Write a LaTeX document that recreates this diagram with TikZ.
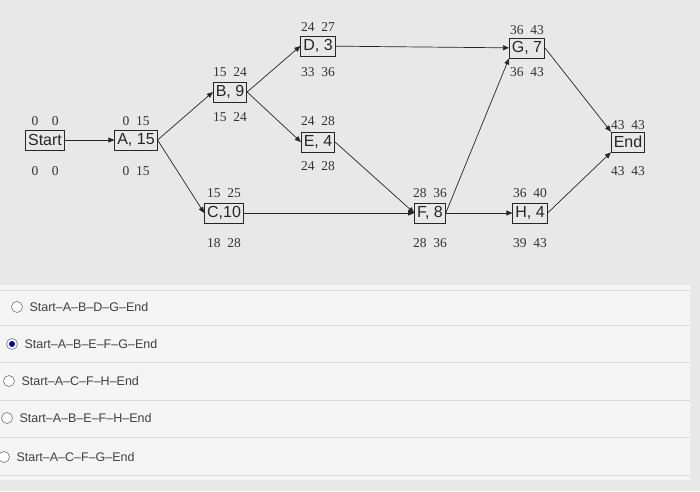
\documentclass[tikz,border=0pt]{standalone}
\usepackage{fontspec}
\setmainfont{Liberation Serif}
\newfontfamily\sansf{Liberation Sans}
\usetikzlibrary{arrows.meta}
\begin{document}
\begin{tikzpicture}[x=1pt,y=-1pt,
  act/.style={draw=black!85,line width=0.8pt,inner xsep=2.5pt,inner ysep=1.5pt,minimum height=20,font=\sansf\fontsize{16}{16}\selectfont,text=black!85},
  lab/.style={font=\fontsize{13.5}{13.5}\selectfont,text=black!80},
  arr/.style={-{Triangle[length=6pt,width=5pt]},line width=0.7pt,black!85},
  opt/.style={font=\sansf\fontsize{12.5}{13}\selectfont,text=black!75,anchor=west},
  rad/.style={draw=black!55,line width=0.6pt,fill=white,circle,minimum size=11pt,inner sep=0pt}]
\useasboundingbox (0,0) rectangle (700,491);
\fill[black!9] (0,0) rectangle (700,491);
\fill[black!4] (0,285) rectangle (690,480);
\foreach \y in {290,325,362,400,437,475} \draw[black!15] (0,\y) -- (690,\y);
\node[act] (S) at (45,140) {Start};
\node[act] (A) at (136,140) {A, 15};
\node[act] (B) at (230,92) {B, 9};
\node[act] (C) at (224,213) {C,10};
\node[act] (D) at (318,46) {D, 3};
\node[act] (E) at (318,142) {E, 4};
\node[act] (F) at (430,213) {F, 8};
\node[act] (G) at (527,48) {G, 7};
\node[act] (H) at (530,213) {H, 4};
\node[act] (End) at (628,142) {End};
\foreach \n/\x/\t/\ty/\b/\by in {
  S/45/0\quad 0/121/0\quad 0/171,
  A/136/0\enspace 15/121/0\enspace 15/171,
  B/230/15\enspace24/72/15\enspace24/117,
  C/224/15\enspace25/193/18\enspace28/243,
  D/318/24\enspace27/27/33\enspace36/72,
  E/318/24\enspace28/121/24\enspace28/166,
  F/430/28\enspace36/193/28\enspace36/243,
  G/527/36\enspace43/30/36\enspace43/72,
  H/530/36\enspace40/193/39\enspace43/243,
  End/628/43\enspace43/125/43\enspace43/171}{
  \node[lab] (\n t) at (\x,\ty) {\t};
  \node[lab] (\n b) at (\x,\by) {\b};
}
\draw[arr] (S) -- (A);
\draw[arr] (A.east) -- (B.west);
\draw[arr] (A.east) -- (C.west);
\draw[arr] (B.east) -- (D.west);
\draw[arr] (B.east) -- (E.west);
\draw[arr] (D) -- (G);
\draw[arr] (E.east) -- (F.west);
\draw[arr] (C) -- (F);
\draw[arr] (F.east) -- (G.south west);
\draw[arr] (F) -- (H);
\draw[arr] (G.east) -- (End.north west);
\draw[arr] (H.east) -- (End.south west);
\node[rad] (r1) at (17,307) {};
\node[opt] (o1) at (26,307) {Start–A–B–D–G–End};
\node[rad] (r2) at (12,344) {};
\fill[blue!70!black] (r2) circle (3pt);
\node[opt] (o2) at (21,344) {Start–A–B–E–F–G–End};
\node[rad] (r3) at (9,381) {};
\node[opt] (o3) at (18,381) {Start–A–C–F–H–End};
\node[rad] (r4) at (7,418) {};
\node[opt] (o4) at (16,418) {Start–A–B–E–F–H–End};
\node[rad] (r5) at (4,457) {};
\node[opt] (o5) at (13,457) {Start–A–C–F–G–End};
\end{tikzpicture}
\end{document}
